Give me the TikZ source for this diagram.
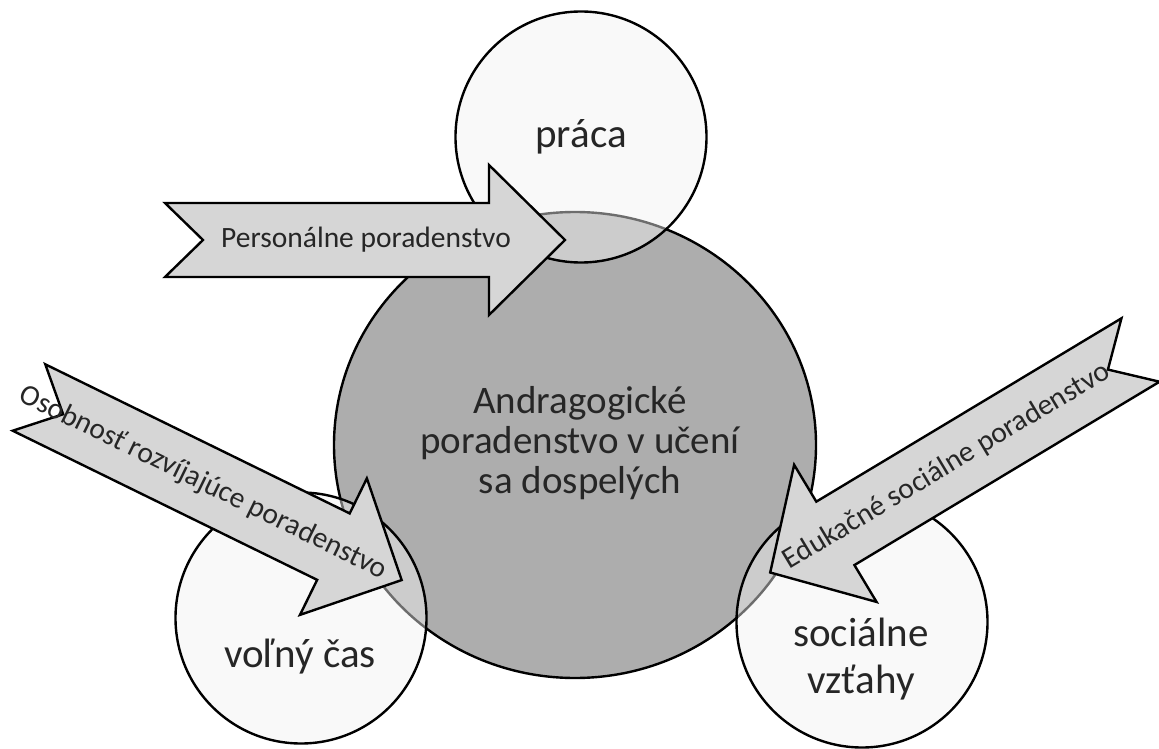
\documentclass[tikz,border=0pt]{standalone}
\usepackage{fontspec}
\setmainfont{Carlito}
\usetikzlibrary{shapes.geometric}
% one wide notched arrow along +x: #1 total length, #2 half width of the head
\newcommand\fatarrow[2]{%
  \draw[arrowbody] (0,37) -- ({#1-76},37) -- ({#1-76},#2) -- (#1,0)
    -- ({#1-76},-#2) -- ({#1-76},-37) -- (0,-37) -- (38,0) -- cycle;}
\begin{document}
\begin{tikzpicture}[x=1pt,y=1pt,
  hub/.style={ellipse, draw=black, line width=2.4pt, fill=black!32,
    minimum width=482pt, minimum height=466pt, inner sep=0pt},
  sphere/.style={circle, draw=black, draw opacity=1, line width=2.4pt,
    fill=black!5, fill opacity=0.45, minimum size=251pt, inner sep=0pt},
  arrowbody/.style={draw=black, line width=2.4pt, fill=black!16, line join=miter},
  arrowlabel/.style={text=black!85, font=\fontsize{29.5}{31}\selectfont, inner sep=0pt},
  biglabel/.style={text=black!85, font=\fontsize{41}{47}\selectfont, align=center, inner sep=0pt}]
\useasboundingbox (0,0) rectangle (1159,-749);

% central disc and the three areas overlapping it
\node[hub] (core) at (575,-445) {};
\node[sphere] (work) at (581,-137) {};
\node[sphere] (leisure) at (301,-618) {};
\node[sphere] (social) at (862,-622) {};

\node[biglabel, font=\fontsize{39}{40}\selectfont] (coretext) at (580,-443)
  {Andragogické\\poradenstvo v učení\\sa dospelých};
\node[biglabel, anchor=base] (worktext) at (581,-148) {práca};
\node[biglabel, anchor=base] (leisuretext) at (300,-667) {voľný čas};
\node[biglabel] (socialtext) at (861,-659) {sociálne\\vzťahy};

% the three kinds of counselling, pointing at the centre
\begin{scope}[shift={(165,-240)}]
  \fatarrow{400}{75}
  \node[arrowlabel] (personal) at (201,0) {Personálne poradenstvo};
\end{scope}
\begin{scope}[shift={(29,-397.5)}, rotate=-26.1]
  \fatarrow{415}{76}
  \node[arrowlabel, rotate=-26.1] (growth) at (194,0) {Osobnosť rozvíjajúce poradenstvo};
\end{scope}
\begin{scope}[shift={(1140.5,-350)}, rotate=-149]
  \fatarrow{432}{80}
  \node[arrowlabel, rotate=31] (edu) at (226,0) {Edukačné sociálne poradenstvo};
\end{scope}
\end{tikzpicture}
\end{document}
